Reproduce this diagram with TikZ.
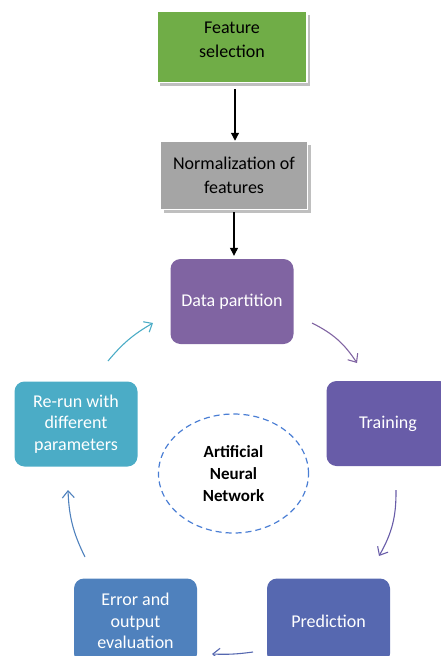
\documentclass[tikz,border=0pt]{standalone}
\usepackage{fontspec}
\setmainfont{Carlito}
\usetikzlibrary{arrows.meta,shadows,shapes.geometric}
\definecolor{cgreen}{RGB}{112,173,71}
\definecolor{cgray}{RGB}{165,165,165}
\definecolor{cdata}{RGB}{128,100,162}
\definecolor{ctrain}{RGB}{104,92,168}
\definecolor{cpred}{RGB}{86,104,176}
\definecolor{cerr}{RGB}{79,129,189}
\definecolor{crerun}{RGB}{75,172,198}
\definecolor{cdash}{RGB}{74,126,212}
\tikzset{
  x=1pt, y=-1pt,
  flatbox/.style={draw=white, line width=1.5pt, minimum width=150pt, minimum height=71pt,
    align=center, font=\fontsize{18}{24}\selectfont,
    drop shadow={shadow xshift=3pt, shadow yshift=-3pt, fill=black!25, opacity=1}},
  cyclebox/.style={rounded corners=10pt, minimum width=123pt, minimum height=85pt,
    align=center, text=white, font=\fontsize{18}{21.5}\selectfont},
  flow/.style={-{Triangle[length=8pt,width=8pt]}, line width=1.2pt},
  loop/.style={-{Straight Barb[length=7pt,width=12pt]}, line width=1.1pt},
}
\begin{document}
\begin{tikzpicture}
\clip (0,0) rectangle (441,656);
\useasboundingbox (0,0) rectangle (441,656);

% linear preprocessing steps
\node[flatbox, fill=cgreen, text depth=14pt] (feat) at (232,47) {Feature\\selection};
\node[flatbox, fill=cgray, minimum width=147pt, minimum height=68pt] (norm) at (234,175.5) {Normalization of\\features};

% training cycle
\node[cyclebox, fill=cdata] (data) at (232,301.5) {Data partition};
\node[cyclebox, fill=ctrain] (train) at (388,423.5) {Training};
\node[cyclebox, fill=cpred] (pred) at (328.5,621) {Prediction};
\node[cyclebox, fill=cerr] (err) at (135.5,621) {Error and\\output\\evaluation};
\node[cyclebox, fill=crerun] (rerun) at (76,424) {Re-run with\\different\\parameters};

% centre label
\node[draw=cdash, dash pattern=on 6pt off 4pt, line width=1.2pt, ellipse,
      minimum width=150pt, minimum height=119pt, align=center,
      font=\fontsize{17}{22}\selectfont\bfseries] (ann) at (233.5,473.5)
      {Artificial\\Neural\\Network};

\draw[flow] (feat.south) ++(3,6) coordinate (f1) -- (f1 |- norm.north) coordinate (f2);
\draw[flow, shorten >=3pt] (norm.south) ++(0,2) coordinate (n1) -- (data.north -| n1);

% cycle arrows
\coordinate (a1) at (312,323); \coordinate (a2) at (357,363);
\coordinate (b1) at (396,490); \coordinate (b2) at (379,556);
\coordinate (c1) at (253,652); \coordinate (c2) at (212,654);
\coordinate (d1) at (85,557);  \coordinate (d2) at (68,490);
\coordinate (e1) at (108,361); \coordinate (e2) at (153,323);
\draw[loop, draw=cdata] (a1) to[bend left=15] (a2);
\draw[loop, draw=ctrain] (b1) to[bend left=15] (b2);
\draw[loop, draw=cpred] (c1) to[bend left=5] (c2);
\draw[loop, draw=cerr] (d1) to[bend left=12] (d2);
\draw[loop, draw=crerun] (e1) to[bend left=10] (e2);
\end{tikzpicture}
\end{document}
